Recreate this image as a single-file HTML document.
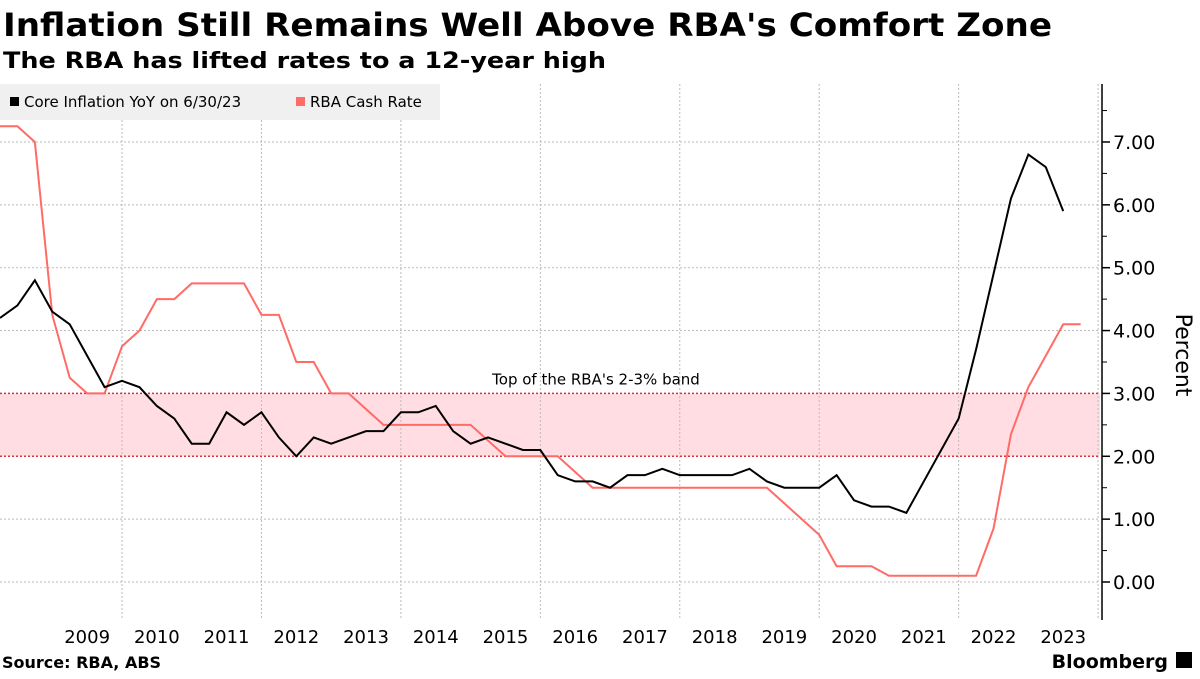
<!DOCTYPE html>
<html><head><meta charset="utf-8"><style>
body{margin:0;background:#fff;width:1200px;height:675px;overflow:hidden;font-family:"DejaVu Sans","Liberation Sans",sans-serif}
</style></head><body>
<svg width="1200" height="675" xmlns="http://www.w3.org/2000/svg">
<text x="3" y="36" font-size="32" font-weight="bold" fill="#000" textLength="1049" lengthAdjust="spacingAndGlyphs">Inflation Still Remains Well Above RBA's Comfort Zone</text>
<text x="3" y="68" font-size="22" font-weight="bold" fill="#000" textLength="603" lengthAdjust="spacingAndGlyphs">The RBA has lifted rates to a 12-year high</text>
<g id="plot"></g>
<g>
<rect x="0" y="84" width="440" height="36" fill="#f0f0f0"/>
<rect x="10" y="97" width="9" height="9" fill="#000"/>
<text x="24" y="107" font-size="15" fill="#000">Core Inflation YoY on 6/30/23</text>
<rect x="296" y="97" width="9" height="9" fill="#ff6b66"/>
<text x="310" y="107" font-size="15" fill="#000">RBA Cash Rate</text>
</g>
<text x="2" y="668" font-size="16" font-weight="bold">Source: RBA, ABS</text>
<text x="1168" y="668" font-size="19" font-weight="bold" text-anchor="end">Bloomberg</text>
<rect x="1176" y="652" width="16" height="16" fill="#000"/>
</svg>
<script>
const core=[4.2,4.4,4.8,4.3,4.1,3.6,3.1,3.2,3.1,2.8,2.6,2.2,2.2,2.7,2.5,2.7,2.3,2.0,2.3,2.2,2.3,2.4,2.4,2.7,2.7,2.8,2.4,2.2,2.3,2.2,2.1,2.1,1.7,1.6,1.6,1.5,1.7,1.7,1.8,1.7,1.7,1.7,1.7,1.8,1.6,1.5,1.5,1.5,1.7,1.3,1.2,1.2,1.1,1.6,2.1,2.6,3.7,4.9,6.1,6.8,6.6,5.9];
const cash=[7.25,7.25,7.0,4.25,3.25,3.0,3.0,3.75,4.0,4.5,4.5,4.75,4.75,4.75,4.75,4.25,4.25,3.5,3.5,3.0,3.0,2.75,2.5,2.5,2.5,2.5,2.5,2.5,2.25,2.0,2.0,2.0,2.0,1.75,1.5,1.5,1.5,1.5,1.5,1.5,1.5,1.5,1.5,1.5,1.5,1.25,1.0,0.75,0.25,0.25,0.25,0.1,0.1,0.1,0.1,0.1,0.1,0.85,2.35,3.1,3.6,4.1,4.1];
const years=[2009,2010,2011,2012,2013,2014,2015,2016,2017,2018,2019,2020,2021,2022,2023];
const yTicks=[0,1,2,3,4,5,6,7];
const bandLow=2, bandHigh=3;
const NS='http://www.w3.org/2000/svg';
const x0=0, t0=2008.25, pxYear=69.72;
const xT=t=>x0+(t-t0)*pxYear;
const xQ=i=>xT(t0+i*0.25);
const y=v=>582-v*62.86;
const g=document.getElementById('plot');
function mk(tag,attrs){const e=document.createElementNS(NS,tag);for(const k in attrs)e.setAttribute(k,attrs[k]);g.appendChild(e);return e;}
let e=mk('rect',{x:0,y:y(bandHigh),width:1100,height:y(bandLow)-y(bandHigh),fill:'#ffdde3'});


yTicks.forEach(v=>{
 const l=mk('line',{x1:0,x2:1100,y1:y(v),y2:y(v),stroke:'#bbb','stroke-dasharray':'2,2'});
 
 
 const t=mk('line',{x1:1102,x2:1110,y1:y(v),y2:y(v),stroke:'#000','stroke-width':1.5});
 
 
 const m=mk('line',{x1:1102,x2:1107,y1:y(v+0.5),y2:y(v+0.5),stroke:'#000'});
 
 
 const tx=mk('text',{x:1113,y:y(v)+7,'font-size':19,fill:'#000'});tx.textContent=v.toFixed(2);
 
 
});
for(let yr=2010;yr<=2024;yr+=2){
 const l=mk('line',{x1:xT(yr),x2:xT(yr),y1:84,y2:620,stroke:'#bbb','stroke-dasharray':'2,2'});
 
 
}
years.forEach(yr=>{
 const t=mk('text',{x:xT(yr+0.5),y:643,'font-size':18,'text-anchor':'middle',fill:'#000'});t.textContent=yr;
 
 
});
[bandHigh,bandLow].forEach(v=>{
 const l=mk('line',{x1:0,x2:1100,y1:y(v),y2:y(v),stroke:'#e0303a','stroke-width':1.5,'stroke-dasharray':'2,2'});
 
 
});
e=mk('text',{x:596,y:y(bandHigh)-9,'font-size':15,'text-anchor':'middle',fill:'#000'});e.textContent="Top of the RBA's 2-3% band";


e=mk('line',{x1:1102,x2:1102,y1:84,y2:620,stroke:'#000','stroke-width':1.5});


e=mk('text',{x:1176,y:355,'font-size':22,'text-anchor':'middle',transform:'rotate(90 1176 355)',fill:'#000'});e.textContent='Percent';


e=mk('polyline',{points:cash.map((v,i)=>xQ(i)+','+y(v)).join(' '),fill:'none',stroke:'#ff6b66','stroke-width':2});


e=mk('polyline',{points:core.map((v,i)=>xQ(i)+','+y(v)).join(' '),fill:'none',stroke:'#000','stroke-width':2});


</script>
</body></html>
